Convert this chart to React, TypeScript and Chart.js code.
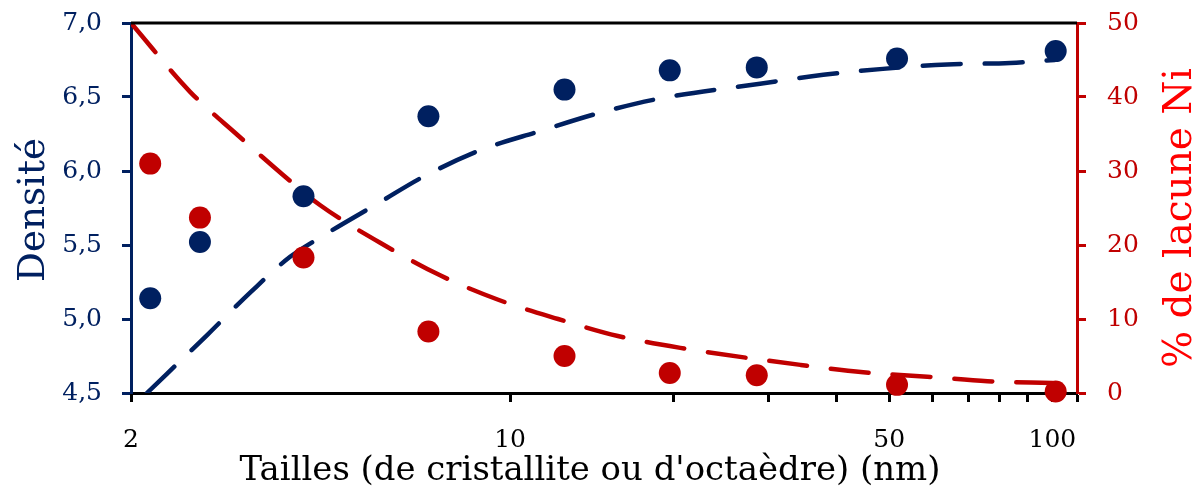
import React, { useEffect, useRef } from "react";
import { Chart, registerables } from "chart.js";

Chart.register(...registerables);

// Measured points
const sizesNm = [2.17, 2.68, 4.16, 7.07, 12.6, 19.7, 28.5, 51.7, 101.4];
const densite = [5.14, 5.52, 5.83, 6.37, 6.55, 6.68, 6.7, 6.76, 6.81];
const lacuneNi = [31.0, 23.7, 18.3, 8.3, 5.0, 2.7, 2.4, 1.1, 0.2];

// Dashed model curves
const densiteFitX = [2.14, 2.76, 3.32, 3.93, 4.46, 5.76, 6.91, 8.8, 11.36, 14.53, 18.9, 28.9, 37.8, 48.7, 64.0, 83.6, 101.0];
const densiteFitY = [4.5, 4.89, 5.18, 5.42, 5.55, 5.79, 5.96, 6.14, 6.27, 6.39, 6.49, 6.59, 6.65, 6.69, 6.72, 6.73, 6.75];
const lacuneFitX = [2.0, 2.57, 3.14, 3.81, 4.46, 5.76, 7.43, 9.51, 12.26, 15.8, 20.6, 34.3, 44.8, 58.8, 75.9, 100.0];
const lacuneFitY = [50, 40.7, 34.9, 29.5, 25.4, 20.3, 15.9, 12.6, 10.0, 7.7, 6.1, 3.8, 2.8, 2.2, 1.6, 1.35];

// Axes
const xMin = 2;
const xMax = 111;
const xTickValues = [2, 10, 20, 30, 40, 50, 60, 70, 80, 90, 100, 111];
const xLabelValues = [2, 10, 50, 100];
const yMin = 4.5;
const yMax = 7.0;
const yStep = 0.5;
const y1Min = 0;
const y1Max = 50;
const y1Step = 10;

const titleX = "Tailles (de cristallite ou d'octaèdre) (nm)";
const titleYLeft = "Densité";
const titleYRight = "% de lacune Ni";

const BLUE = "#002060";
const RED = "#C00000";
const BRIGHT_RED = "#FF0000";
const FONT = '"DejaVu Serif", serif';
const TICK_SIZE = 25;

function fitFont(ctx: CanvasRenderingContext2D, text: string, target: number) {
  ctx.font = `100px ${FONT}`;
  const w = ctx.measureText(text).width;
  return (100 * target) / w;
}

const titlesPlugin = {
  id: "titlesPlugin",
  afterDraw(chart: any) {
    const ctx: CanvasRenderingContext2D = chart.ctx;
    const { left, right, top } = chart.chartArea;
    ctx.save();
    // top frame line
    ctx.strokeStyle = "#000000";
    ctx.lineWidth = 3;
    ctx.beginPath();
    ctx.moveTo(left, top);
    ctx.lineTo(right, top);
    ctx.stroke();

    // x title
    const sx = fitFont(ctx, titleX, 701);
    ctx.font = `${sx}px ${FONT}`;
    ctx.fillStyle = "#000000";
    ctx.textAlign = "center";
    ctx.textBaseline = "alphabetic";
    ctx.fillText(titleX, 590, 480);

    // left title
    const sl = fitFont(ctx, titleYLeft, 144);
    ctx.save();
    ctx.translate(44, 210);
    ctx.rotate(-Math.PI / 2);
    ctx.font = `${sl}px ${FONT}`;
    ctx.fillStyle = BLUE;
    ctx.textAlign = "center";
    ctx.textBaseline = "alphabetic";
    ctx.fillText(titleYLeft, 0, 0);
    ctx.restore();

    // right title
    const sr = fitFont(ctx, titleYRight, 300);
    ctx.save();
    ctx.translate(1191, 218);
    ctx.rotate(-Math.PI / 2);
    ctx.font = `${sr}px ${FONT}`;
    ctx.fillStyle = BRIGHT_RED;
    ctx.textAlign = "center";
    ctx.textBaseline = "alphabetic";
    ctx.fillText(titleYRight, 0, 0);
    ctx.restore();

    ctx.restore();
  },
};

export default function App() {
  const canvasRef = useRef<HTMLCanvasElement | null>(null);

  useEffect(() => {
    if (!canvasRef.current) return;
    const pts = (xs: number[], ys: number[]) => xs.map((x, i) => ({ x, y: ys[i] }));
    const dash = {
      showLine: true,
      pointRadius: 0,
      borderWidth: 4.5,
      borderDash: [38, 24],
      borderCapStyle: "round" as const,
      cubicInterpolationMode: "monotone" as const,
      fill: false,
      order: 2,
    };
    const chart = new Chart(canvasRef.current, {
      type: "scatter",
      data: {
        datasets: [
          {
            label: "Densité",
            data: pts(sizesNm, densite),
            yAxisID: "y",
            backgroundColor: BLUE,
            borderColor: BLUE,
            pointRadius: 11,
            pointBorderWidth: 0,
            clip: false as any,
            order: 0,
          },
          {
            label: "% de lacune Ni",
            data: pts(sizesNm, lacuneNi),
            yAxisID: "y1",
            backgroundColor: RED,
            borderColor: RED,
            pointRadius: 11,
            pointBorderWidth: 0,
            clip: false as any,
            order: 0,
          },
          {
            label: "Densité (modèle)",
            data: pts(densiteFitX, densiteFitY),
            yAxisID: "y",
            borderColor: BLUE,
            backgroundColor: BLUE,
            ...dash,
          },
          {
            label: "% de lacune Ni (modèle)",
            data: pts(lacuneFitX, lacuneFitY),
            yAxisID: "y1",
            borderColor: RED,
            backgroundColor: RED,
            ...dash,
          },
        ],
      },
      options: {
        animation: false,
        responsive: false,
        events: [],
        layout: { padding: { top: 23, left: 0, right: 0, bottom: 0 } },
        plugins: {
          legend: { display: false },
          tooltip: { enabled: false },
          title: { display: false },
        },
        scales: {
          x: {
            type: "logarithmic",
            position: "bottom",
            min: xMin,
            max: xMax,
            afterBuildTicks: (scale: any) => {
              scale.ticks = xTickValues.map((v) => ({ value: v }));
            },
            afterFit: (scale: any) => {
              scale.height = 96;
              scale.paddingLeft = 0;
              scale.paddingRight = 0;
            },
            ticks: {
              autoSkip: false,
              maxRotation: 0,
              minRotation: 0,
              padding: 23,
              color: "#000000",
              font: { family: FONT, size: TICK_SIZE },
              callback: (v: any) => (xLabelValues.includes(Number(v)) ? String(v) : ""),
            },
            grid: {
              display: true,
              drawOnChartArea: false,
              drawTicks: true,
              tickLength: 9,
              tickWidth: 3,
              tickColor: "#000000",
            },
            border: { display: true, color: "#000000", width: 3 },
          },
          y: {
            type: "linear",
            position: "left",
            min: yMin,
            max: yMax,
            afterFit: (scale: any) => {
              scale.width = 131;
              scale.paddingTop = 0;
              scale.paddingBottom = 0;
            },
            ticks: {
              stepSize: yStep,
              padding: 20,
              color: BLUE,
              font: { family: FONT, size: TICK_SIZE },
              callback: (v: any) => Number(v).toFixed(1).replace(".", ","),
            },
            grid: {
              display: true,
              drawOnChartArea: false,
              drawTicks: true,
              tickLength: 9,
              tickWidth: 3,
              tickColor: BLUE,
            },
            border: { display: true, color: BLUE, width: 3 },
          },
          y1: {
            type: "linear",
            position: "right",
            min: y1Min,
            max: y1Max,
            afterFit: (scale: any) => {
              scale.width = 121;
              scale.paddingTop = 0;
              scale.paddingBottom = 0;
            },
            ticks: {
              stepSize: y1Step,
              padding: 21,
              color: RED,
              font: { family: FONT, size: TICK_SIZE },
              callback: (v: any) => String(v),
            },
            grid: {
              display: true,
              drawOnChartArea: false,
              drawTicks: true,
              tickLength: 9,
              tickWidth: 3,
              tickColor: RED,
            },
            border: { display: true, color: RED, width: 3 },
          },
        },
      } as any,
      plugins: [titlesPlugin],
    });
    return () => chart.destroy();
  }, []);

  return (
    <div style={{ position: "fixed", left: 0, top: 0, width: 1198, height: 489, background: "#ffffff" }}>
      <canvas ref={canvasRef} width={1198} height={489} style={{ display: "block" }} />
    </div>
  );
}
